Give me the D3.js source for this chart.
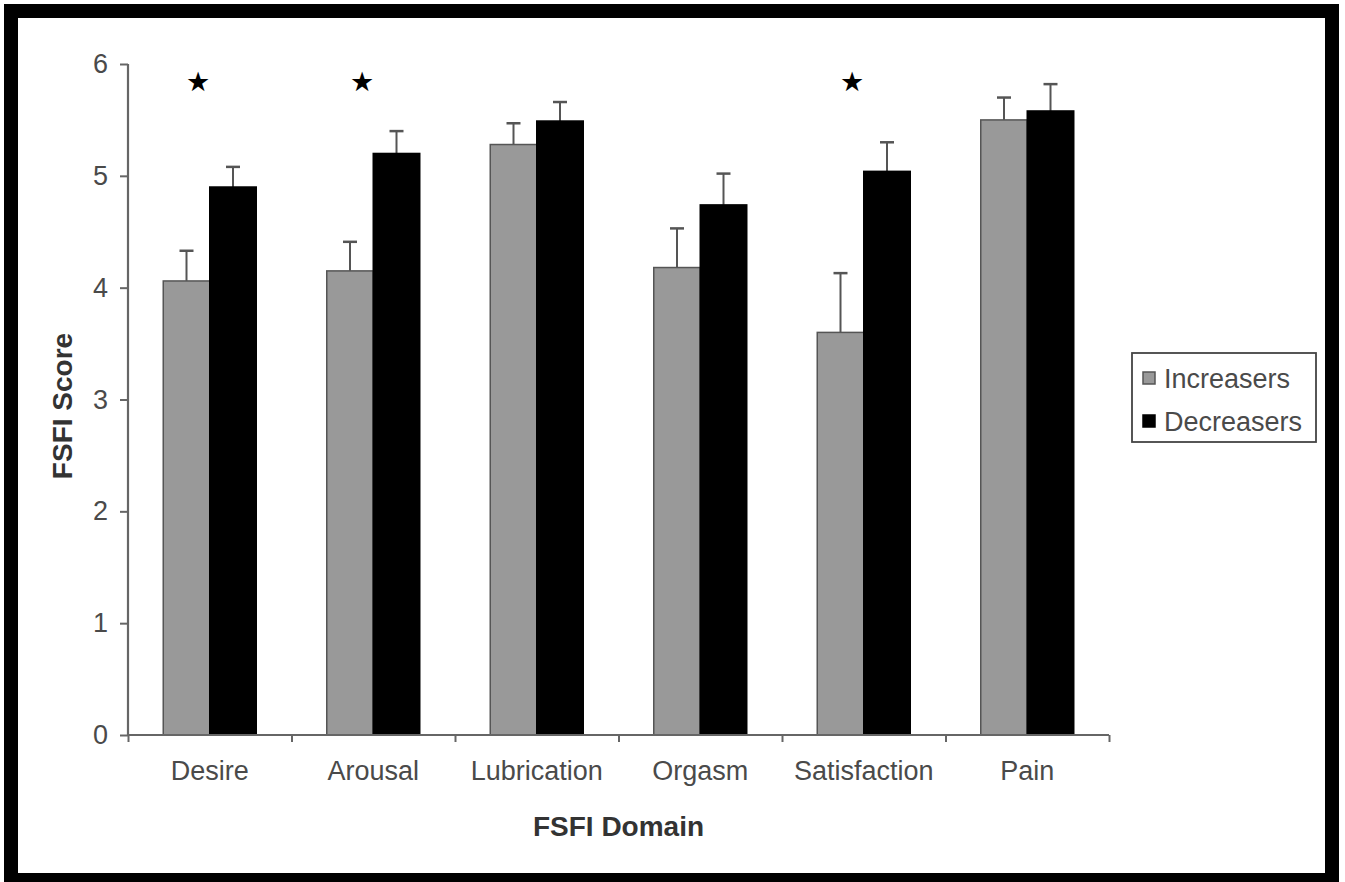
<!DOCTYPE html>
<html>
<head>
<meta charset="utf-8">
<script src="https://cdn.jsdelivr.net/npm/d3@7"></script>
<style>
  html, body { margin: 0; padding: 0; background: #fff; }
  svg { display: block; }
  text { font-family: "Liberation Sans", Arial, sans-serif; }
</style>
</head>
<body>
<svg id="chart" width="1345" height="882"></svg>
<script>
// ---- data ----
const categories = ["Desire", "Arousal", "Lubrication", "Orgasm", "Satisfaction", "Pain"];
const seriesNames = ["Increasers", "Decreasers"];
const increasers = [4.06, 4.15, 5.28, 4.18, 3.60, 5.50];
const increasersErr = [0.27, 0.26, 0.19, 0.35, 0.53, 0.20];
const decreasers = [4.90, 5.20, 5.49, 4.74, 5.04, 5.58];
const decreasersErr = [0.18, 0.20, 0.17, 0.28, 0.26, 0.24];
const significant = ["Desire", "Arousal", "Satisfaction"];
const yTicks = [0, 1, 2, 3, 4, 5, 6];
const xTitle = "FSFI Domain";
const yTitle = "FSFI Score";

const colors = { Increasers: "#999999", Decreasers: "#000000" };
const outlines = { Increasers: "#555555", Decreasers: "#000000" };

const svg = d3.select("#chart");

// frame
svg.append("rect").attr("x", 11).attr("y", 11).attr("width", 1321).attr("height", 869)
  .attr("fill", "#fff").attr("stroke", "#000").attr("stroke-width", 14);

const pLeft = 128, pRight = 1109, pTop = 64, pBottom = 735;

const x = d3.scaleBand().domain(categories).range([pLeft, pRight]).paddingInner(0).paddingOuter(0);
const bw = x.bandwidth();
const x1 = d3.scaleBand().domain(seriesNames).range([bw * 0.2156, bw * 0.7844]).padding(0);
const y = d3.scaleLinear().domain([0, 6]).range([pBottom, pTop]);

const rows = categories.map((c, i) => ({
  cat: c,
  vals: [
    { s: "Increasers", v: increasers[i], e: increasersErr[i] },
    { s: "Decreasers", v: decreasers[i], e: decreasersErr[i] }
  ]
}));

const axisColor = "#666";
const textColor = "#4a4a4a";

// bars
const g = svg.append("g");
const groups = g.selectAll("g.cat").data(rows).join("g")
  .attr("transform", d => `translate(${x(d.cat)},0)`);

groups.selectAll("g.err").data(d => d.vals).join("g").each(function(d) {
  const cx = x1(d.s) + x1.bandwidth() / 2;
  const sel = d3.select(this);
  sel.append("line").attr("x1", cx).attr("x2", cx).attr("y1", y(d.v)).attr("y2", y(d.v + d.e))
    .attr("stroke", "#555").attr("stroke-width", 2);
  sel.append("line").attr("x1", cx - 7).attr("x2", cx + 7).attr("y1", y(d.v + d.e)).attr("y2", y(d.v + d.e))
    .attr("stroke", "#555").attr("stroke-width", 2.5);
});

groups.selectAll("rect").data(d => d.vals).join("rect")
  .attr("x", d => x1(d.s))
  .attr("width", x1.bandwidth())
  .attr("y", d => y(d.v))
  .attr("height", d => y(0) - y(d.v))
  .attr("fill", d => colors[d.s])
  .attr("stroke", d => outlines[d.s])
  .attr("stroke-width", 1.5);

// y axis
const yAxis = svg.append("g").attr("transform", `translate(${pLeft},0)`)
  .call(d3.axisLeft(y).tickValues(yTicks).tickFormat(d3.format("d")).tickSize(8).tickPadding(12));
yAxis.select(".domain").attr("stroke", axisColor).attr("stroke-width", 2.2).attr("d", `M0,${pTop}V${pBottom}`);
yAxis.selectAll(".tick line").attr("stroke", axisColor).attr("stroke-width", 2);
yAxis.selectAll(".tick text").attr("fill", textColor).attr("font-size", 27);

// x axis: tick marks at band edges
const xEdge = d3.scaleLinear().domain([0, categories.length]).range([pLeft, pRight]);
const xAxisTicks = svg.append("g").attr("transform", `translate(0,${pBottom})`)
  .call(d3.axisBottom(xEdge).tickValues(d3.range(categories.length + 1)).tickFormat("").tickSize(7));
xAxisTicks.select(".domain").attr("stroke", axisColor).attr("stroke-width", 2.2).attr("d", `M${pLeft},0H${pRight}`);
xAxisTicks.selectAll(".tick line").attr("stroke", axisColor).attr("stroke-width", 2);

// x category labels
const xAxis = svg.append("g").attr("transform", `translate(0,${pBottom})`)
  .call(d3.axisBottom(x).tickSize(0).tickPadding(26));
xAxis.select(".domain").remove();
xAxis.selectAll(".tick text").attr("fill", textColor).attr("font-size", 27);

// titles
svg.append("text").attr("x", (pLeft + pRight) / 2).attr("y", 836)
  .attr("text-anchor", "middle").attr("font-size", 28).attr("font-weight", "bold")
  .attr("fill", "#333").text(xTitle);
svg.append("text").attr("transform", `translate(72,406) rotate(-90)`)
  .attr("text-anchor", "middle").attr("font-size", 28).attr("font-weight", "bold")
  .attr("fill", "#333").text(yTitle);

// significance stars
svg.selectAll("text.star").data(significant).join("text").attr("class", "star")
  .attr("x", d => x(d) + bw * 0.43)
  .attr("y", y(5.84))
  .attr("dy", "0.35em")
  .attr("text-anchor", "middle")
  .attr("font-family", "DejaVu Sans")
  .attr("font-size", 27)
  .attr("fill", "#000")
  .text("★");

// legend
const lg = svg.append("g");
lg.append("rect").attr("x", 1132).attr("y", 353).attr("width", 184).attr("height", 89)
  .attr("fill", "#fff").attr("stroke", "#444").attr("stroke-width", 1.8);
seriesNames.forEach((s, i) => {
  const cy = 378 + i * 43;
  lg.append("rect").attr("x", 1143).attr("y", cy - 6).attr("width", 12).attr("height", 12)
    .attr("fill", colors[s]).attr("stroke", outlines[s]).attr("stroke-width", 1.5);
  lg.append("text").attr("x", 1164).attr("y", cy).attr("dy", "0.36em")
    .attr("font-size", 27).attr("fill", textColor).text(s);
});
</script>
</body>
</html>
